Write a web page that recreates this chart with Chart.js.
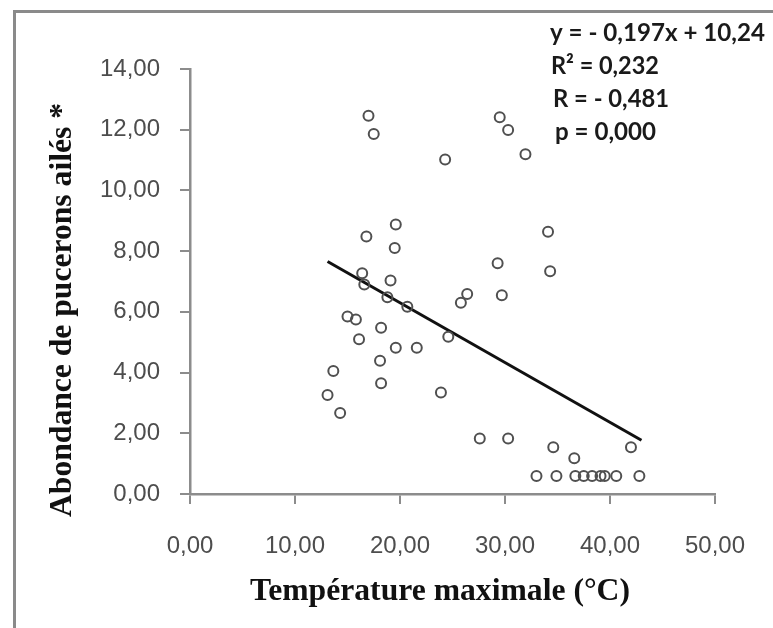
<!DOCTYPE html>
<html>
<head>
<meta charset="utf-8">
<title>Abondance de pucerons ailés</title>
<script src="https://cdn.jsdelivr.net/npm/chart.js@4/dist/chart.umd.min.js"></script>
<style>
    body { margin: 0; background: #fff; }
    #wrap { position: relative; width: 773px; height: 628px; }
    #frame { position: absolute; left: 13px; top: 10px; right: 0; bottom: 0;
             border-left: 3px solid #8a8a8a; border-top: 3px solid #8a8a8a; }
    canvas { position: absolute; left: 0; top: 0; }
</style>
</head>
<body>
<div id="wrap">
    <div id="frame"></div>
    <canvas id="chart" width="773" height="628"></canvas>
</div>
<script>
// Température maximale (°C) / abondance
const tempMax = [13.1, 13.65, 14.3, 15.0, 15.8, 16.1, 16.4, 16.6, 16.8, 17.0, 17.5, 18.1, 18.2, 18.2, 18.8, 19.1,
    19.5, 19.6, 19.6, 20.7, 21.6, 23.9, 24.3, 24.6, 25.8, 26.4, 27.6, 29.3, 29.5, 29.7, 30.3, 30.3, 31.95, 33.0,
    34.1, 34.3, 34.6, 34.9, 36.6, 36.7, 37.5, 38.3, 39.1, 39.5, 40.6, 42.0, 42.8];
const abondance = [3.26, 4.05, 2.67, 5.85, 5.75, 5.1, 7.27, 6.9, 8.48, 12.46, 11.86, 4.39, 3.65, 5.48, 6.48, 7.03,
    8.10, 8.88, 4.82, 6.17, 4.82, 3.34, 11.02, 5.18, 6.30, 6.59, 1.83, 7.60, 12.41, 6.55, 11.99, 1.83, 11.19, 0.59,
    8.64, 7.34, 1.54, 0.59, 1.18, 0.59, 0.59, 0.59, 0.59, 0.59, 0.59, 1.54, 0.59];

// regression line ends
const trendX = [13.1, 43.0];
const trendY = [7.66, 1.77];

const xTicks = [0, 10, 20, 30, 40, 50];
const xTickLabels = ['0,00', '10,00', '20,00', '30,00', '40,00', '50,00'];
const yTicks = [0, 2, 4, 6, 8, 10, 12, 14];
const yTickLabels = ['0,00', '2,00', '4,00', '6,00', '8,00', '10,00', '12,00', '14,00'];

const xTitle = 'Température maximale (°C)';
const yTitle = 'Abondance de pucerons ailés *';
const statsLines = ['y = - 0,197x + 10,24', 'R² = 0,232', 'R = - 0,481', 'p = 0,000'];

const points = tempMax.map((t, i) => ({ x: t, y: abondance[i] }));
const trend = trendX.map((t, i) => ({ x: t, y: trendY[i] }));

// titles and the equation box
const textPlugin = {
    id: 'texts',
    afterDraw(chart) {
        const ctx = chart.ctx;
        ctx.save();
        ctx.fillStyle = '#111';
        ctx.textAlign = 'center';
        ctx.textBaseline = 'middle';
        ctx.font = 'bold 32px "Liberation Serif"';
        ctx.fillText(xTitle, 440, 592, 380);

        ctx.translate(63, 310);
        ctx.rotate(-Math.PI / 2);
        ctx.fillText(yTitle, 0, 0, 414);
        ctx.restore();

        ctx.save();
        ctx.fillStyle = '#1a1a1a';
        ctx.textAlign = 'left';
        ctx.textBaseline = 'middle';
        ctx.font = 'bold 25px Lato';
        const widths = [215, 108, 116, 101];
        const lefts = [550, 551, 553, 555];
        statsLines.forEach((s, i) => {
            ctx.fillText(s, lefts[i], 33 + i * 33, widths[i]);
        });
        ctx.restore();
    }
};

new Chart(document.getElementById('chart'), {
    type: 'scatter',
    data: {
        datasets: [{
            data: points,
            pointRadius: 5,
            pointBorderWidth: 2,
            pointBorderColor: '#505050',
            pointBackgroundColor: 'rgba(0,0,0,0)'
        }, {
            type: 'line',
            data: trend,
            borderColor: '#111',
            borderWidth: 3,
            pointRadius: 0,
            fill: false
        }]
    },
    options: {
        responsive: false,
        animation: false,
        devicePixelRatio: 1,
        layout: { padding: { left: 0, top: 69, right: 52, bottom: 0 } },
        plugins: { legend: { display: false }, tooltip: { enabled: false } },
        scales: {
            x: {
                type: 'linear',
                min: 0, max: 50,
                afterBuildTicks: s => { s.ticks = xTicks.map(v => ({ value: v })); },
                afterFit: s => { s.height = 134; },
                ticks: {
                    callback: v => xTickLabels[xTicks.indexOf(v)],
                    font: { family: '"Liberation Sans"', size: 24 },
                    color: '#4d4d4d',
                    padding: 28,
                    maxRotation: 0
                },
                grid: { drawOnChartArea: false, drawTicks: true, tickLength: 10, color: '#8c8c8c', lineWidth: 2 },
                border: { color: '#8c8c8c', width: 2.5 }
            },
            y: {
                type: 'linear',
                min: 0, max: 14,
                afterBuildTicks: s => { s.ticks = yTicks.map(v => ({ value: v })); },
                afterFit: s => { s.width = 190; },
                ticks: {
                    callback: v => yTickLabels[yTicks.indexOf(v)],
                    font: { family: '"Liberation Sans"', size: 24 },
                    color: '#4d4d4d',
                    padding: 20
                },
                grid: { drawOnChartArea: false, drawTicks: true, tickLength: 10, color: '#8c8c8c', lineWidth: 2 },
                border: { color: '#8c8c8c', width: 2.5 }
            }
        }
    },
    plugins: [textPlugin]
});
</script>
</body>
</html>
